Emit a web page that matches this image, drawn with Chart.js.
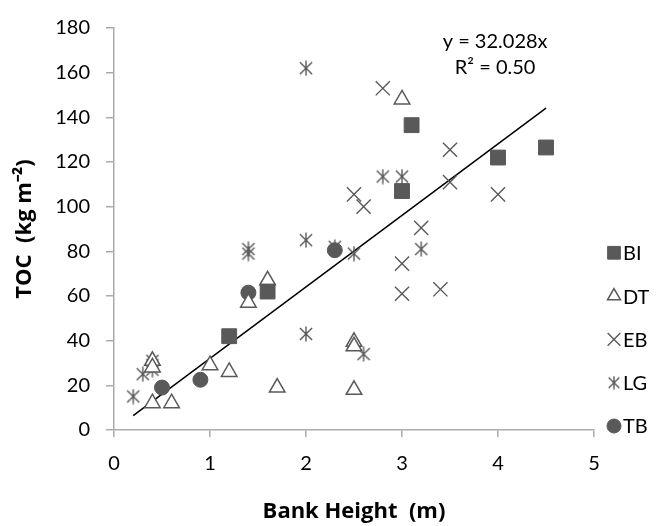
<!DOCTYPE html>
<html>
<head>
<meta charset="utf-8">
<script src="https://cdn.jsdelivr.net/npm/chart.js@4.4.0/dist/chart.umd.min.js"></script>
<style>
  html, body { margin: 0; padding: 0; background: #fff; }
  #wrap { width: 660px; height: 526px; }
</style>
</head>
<body>
<div id="wrap"><canvas id="chart" width="660" height="526"></canvas></div>
<script>
// values
const seriesNames = ['BI', 'DT', 'EB', 'LG', 'TB'];

const biX = [1.2, 1.6, 3.0, 3.1, 4.0, 4.5];
const biY = [42, 62, 107, 136.5, 122, 126.5];

const dtX = [0.4, 0.4, 0.4, 0.6, 1.0, 1.2, 1.4, 1.6, 1.7, 2.5, 2.5, 2.5, 3.0];
const dtY = [31, 28, 12, 12, 29, 26, 57, 67, 19, 39.5, 37.5, 18, 148];

const ebX = [2.5, 2.6, 2.8, 3.0, 3.0, 3.2, 3.4, 3.5, 3.5, 4.0];
const ebY = [105.5, 100, 153, 74.5, 61, 90.5, 63, 125.5, 111, 105.5];

const lgX = [0.2, 0.3, 0.4, 0.4, 0.4, 1.4, 1.4, 2.0, 2.0, 2.0, 2.3, 2.5, 2.6, 2.8, 3.0, 3.2];
const lgY = [15, 25, 27, 29, 31, 79, 81, 162, 85, 43, 82, 79, 34, 113.5, 113.5, 81];

const tbX = [0.5, 0.9, 1.4, 2.3];
const tbY = [19, 22.5, 61.5, 80.5];

// linear trend through origin, as printed on the chart
const slope = 32.028;
const trendX = [0.2, 4.5];
const eqLines = ['y = 32.028x', 'R\u00b2 = 0.50'];

const xMin = 0, xMax = 5, xStep = 1;
const yMin = 0, yMax = 180, yStep = 20;

const grey = '#595959';
const axisGrey = '#ababab';
const FONT = 'Lato';
const TITLE_FONT = 'Open Sans';

const toPts = (xs, ys) => xs.map((x, i) => ({ x: x, y: ys[i] }));

// asterisk marker for LG (X with a vertical bar)
function makeStar(size) {
    const c = document.createElement('canvas');
    c.width = size; c.height = size;
    const g = c.getContext('2d');
    const m = size / 2, d = size * 0.38;
    g.strokeStyle = grey;
    g.lineWidth = 1.4;
    g.beginPath();
    g.moveTo(m - d, m - d); g.lineTo(m + d, m + d);
    g.moveTo(m + d, m - d); g.lineTo(m - d, m + d);
    g.moveTo(m, 0.5); g.lineTo(m, size - 0.5);
    g.stroke();
    return c;
}
const starBig = makeStar(16);
const starSmall = makeStar(14);

const datasets = [
    { label: 'BI', data: toPts(biX, biY), pointStyle: 'rect', pointRadius: 10.5,
      backgroundColor: grey, borderColor: grey, pointBorderWidth: 1, legendRadius: 9 },
    { label: 'DT', data: toPts(dtX, dtY), pointStyle: 'triangle', pointRadius: 9,
      backgroundColor: '#ffffff', borderColor: grey, pointBorderWidth: 1.5, legendRadius: 7.5 },
    { label: 'EB', data: toPts(ebX, ebY), pointStyle: 'crossRot', pointRadius: 10,
      backgroundColor: grey, borderColor: grey, pointBorderWidth: 1.4, legendRadius: 9 },
    { label: 'LG', data: toPts(lgX, lgY), pointStyle: starBig, legendStyle: starSmall,
      backgroundColor: grey, borderColor: grey, pointBorderWidth: 1 },
    { label: 'TB', data: toPts(tbX, tbY), pointStyle: 'circle', pointRadius: 7.5,
      backgroundColor: grey, borderColor: grey, pointBorderWidth: 1, legendRadius: 7 },
    { label: 'trend', data: trendX.map(x => ({ x: x, y: slope * x })), showLine: true,
      pointRadius: 0, borderColor: '#000000', borderWidth: 1.5, fill: false }
];

// legend on the right and the trend equation
const extras = {
    id: 'extras',
    afterDraw(chart) {
        const { ctx, chartArea, scales } = chart;
        ctx.save();
        ctx.fillStyle = '#000';
        ctx.font = '20px ' + FONT;
        ctx.textAlign = 'center';
        ctx.textBaseline = 'middle';
        const ex = scales.x.getPixelForValue(3.97);
        ctx.fillText(eqLines[0], ex, scales.y.getPixelForValue(173.8));
        ctx.fillText(eqLines[1], ex, scales.y.getPixelForValue(162.3));

        const lx = chartArea.right + 20;
        const gap = 43.3;
        ctx.textAlign = 'left';
        seriesNames.forEach((name, i) => {
            const ds = chart.data.datasets.find(d => d.label === name);
            const ly = chartArea.bottom - 4 - (seriesNames.length - 1 - i) * gap;
            ctx.fillStyle = ds.backgroundColor;
            ctx.strokeStyle = ds.borderColor;
            ctx.lineWidth = ds.pointBorderWidth;
            Chart.helpers.drawPoint(ctx, {
                pointStyle: ds.legendStyle || ds.pointStyle,
                radius: ds.legendRadius || 7,
                borderWidth: ds.pointBorderWidth
            }, lx, ly);
            ctx.fillStyle = '#000';
            ctx.fillText(name, lx + 9, ly + 1);
        });
        ctx.restore();
    }
};

new Chart(document.getElementById('chart'), {
    type: 'scatter',
    data: { datasets: datasets },
    options: {
        responsive: false,
        animation: false,
        events: [],
        layout: { padding: { top: 21, right: 66, bottom: 0, left: 0 } },
        plugins: { legend: { display: false }, tooltip: { enabled: false } },
        scales: {
            x: {
                type: 'linear', min: xMin, max: xMax,
                afterFit(s) { s.height = 96; },
                ticks: { stepSize: xStep, color: '#000', padding: 15, font: { family: FONT, size: 20 } },
                grid: { drawOnChartArea: false, drawTicks: true, tickLength: 7, color: axisGrey, lineWidth: 1.5 },
                border: { display: true, color: axisGrey, width: 1.5 },
                title: { display: true, text: 'Bank Height  (m)', color: '#000',
                         font: { family: TITLE_FONT, size: 22, weight: 'bold' }, padding: { top: 0, bottom: 1 } }
            },
            y: {
                type: 'linear', min: yMin, max: yMax,
                afterFit(s) { s.width = 114; },
                ticks: { stepSize: yStep, color: '#000', padding: 16, font: { family: FONT, size: 20 } },
                grid: { drawOnChartArea: false, drawTicks: true, tickLength: 8, color: axisGrey, lineWidth: 1.5 },
                border: { display: true, color: axisGrey, width: 1.5 },
                title: { display: true, text: 'TOC  (kg m\u207b\u00b2)', color: '#000',
                         font: { family: TITLE_FONT, size: 22, weight: 'bold' }, padding: { top: 12, bottom: 0 } }
            }
        }
    },
    plugins: [extras]
});
</script>
</body>
</html>
